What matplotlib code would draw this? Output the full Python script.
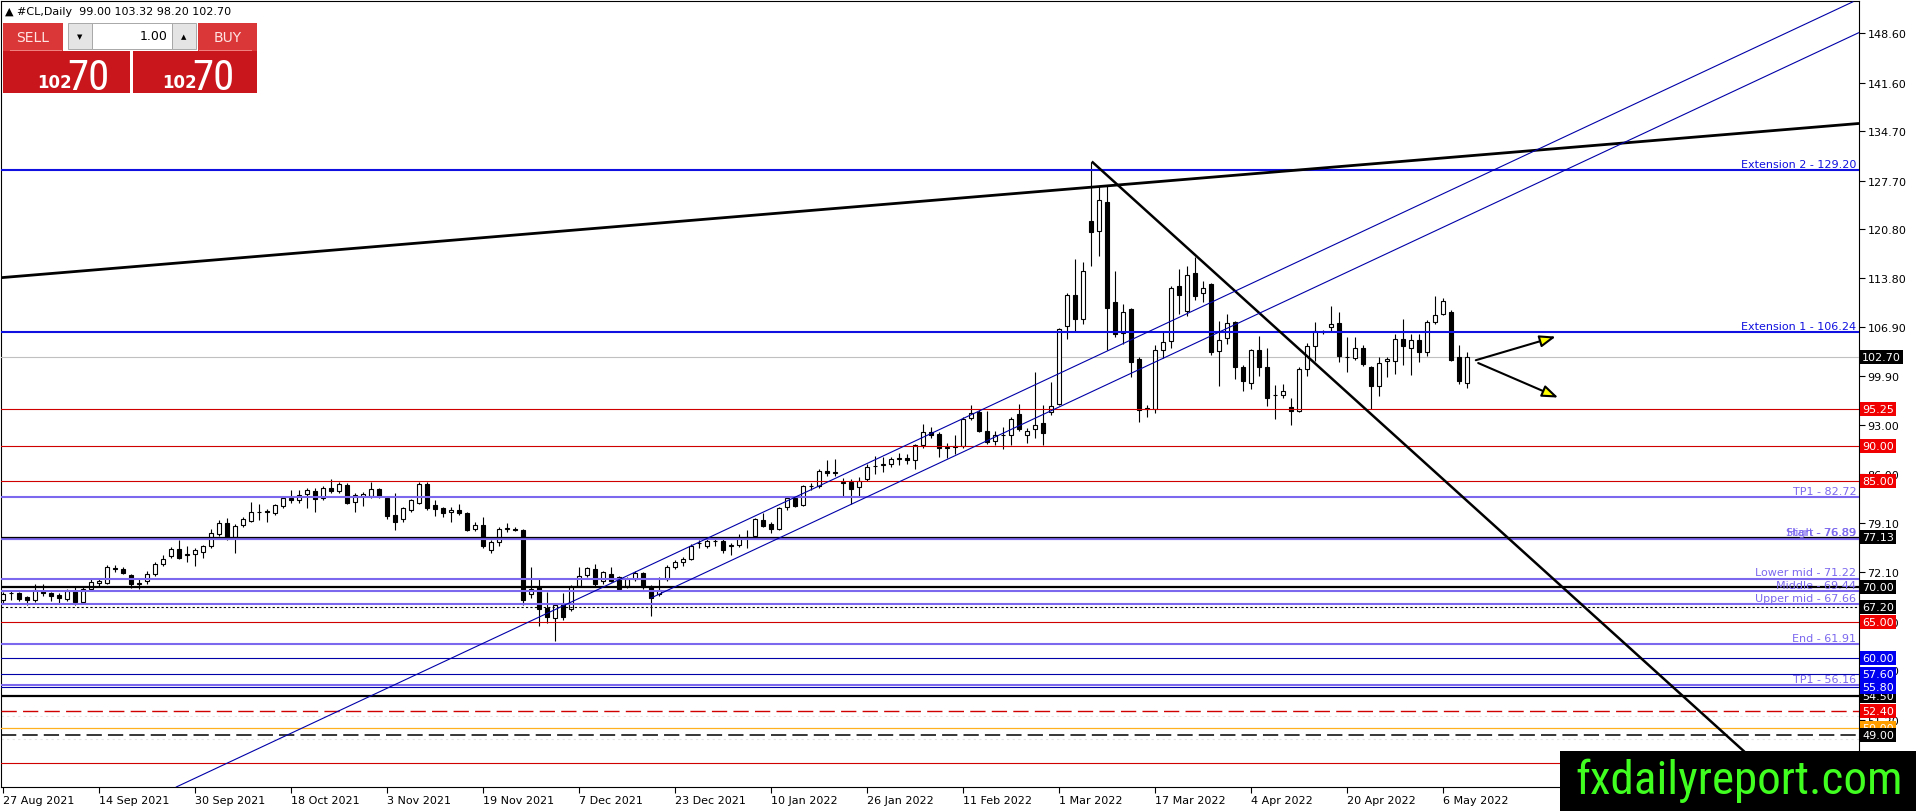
import numpy as np
import matplotlib
matplotlib.use('Agg')
import matplotlib.pyplot as plt
from matplotlib import font_manager
from matplotlib.patches import Rectangle
from matplotlib.transforms import blended_transform_factory

# ---- daily candles, #CL (27 Aug 2021 .. 11 May 2022), one value per bar ----
opens = [
    68.1, 69.1, 69.1, 68.6, 68.2, 69.5, 69.1, 68.9, 68.3, 69.4,
    67.9, 69.7, 70.6, 70.6, 72.7, 72.6, 71.7, 70.5, 70.8, 71.9,
    73.3, 74.4, 75.4, 74.5, 74.7, 75.0, 75.9, 77.5, 79.1, 77.1,
    78.8, 79.4, 80.6, 80.8, 80.5, 81.5, 82.7, 82.3, 83.2, 83.6,
    82.6, 84.0, 83.7, 84.5, 82.1, 83.0, 82.9, 83.9, 82.7, 80.2,
    79.6, 81.0, 82.0, 84.6, 81.6, 81.2, 80.7, 81.0, 80.5, 78.3,
    78.8, 75.2, 76.4, 78.3, 78.2, 78.1, 69.0, 70.0, 67.1, 65.6,
    67.6, 66.9, 70.2, 71.7, 72.6, 70.8, 71.9, 71.4, 70.2, 71.1,
    72.0, 70.0, 69.0, 71.2, 72.9, 73.5, 74.0, 76.2, 75.9, 76.5,
    76.6, 75.9, 76.0, 76.9, 77.3, 79.5, 78.9, 78.3, 81.3, 82.6,
    81.7, 84.3, 84.3, 86.5, 86.2, 84.9, 84.9, 84.2, 85.3, 87.2,
    87.3, 87.5, 88.2, 88.3, 88.0, 90.1, 92.0, 91.7, 89.8, 89.9,
    90.0, 94.0, 94.9, 92.2, 90.8, 91.6, 91.6, 94.6, 91.6, 92.4,
    93.3, 94.9, 96.0, 107.1, 111.4, 108.0, 121.9, 120.6, 124.7, 110.4,
    106.1, 109.5, 102.4, 95.3, 95.3, 103.6, 104.9, 112.8, 109.2, 114.6,
    111.8, 113.0, 103.5, 105.3, 107.6, 101.2, 98.9, 103.6, 101.2, 97.3,
    97.2, 95.5, 95.0, 101.0, 104.2, 106.2, 106.9, 107.5, 102.7, 102.5,
    104.0, 101.3, 98.6, 102.1, 102.1, 105.2, 104.0, 105.0, 103.4, 107.6,
    108.8, 109.0, 102.6, 99.0]
highs = [
    69.3, 69.4, 69.3, 68.8, 70.4, 70.4, 69.3, 69.1, 69.8, 70.0,
    70.0, 71.2, 71.1, 73.1, 73.1, 72.9, 71.9, 71.3, 72.3, 73.5,
    74.6, 75.7, 76.7, 75.8, 75.6, 76.0, 78.3, 79.5, 79.8, 79.0,
    80.0, 82.1, 81.8, 81.1, 81.8, 82.9, 83.8, 83.8, 84.1, 84.0,
    84.3, 85.3, 84.9, 84.8, 83.4, 83.5, 84.9, 84.1, 82.9, 83.4,
    81.4, 82.5, 84.9, 84.9, 82.3, 81.4, 81.3, 81.8, 80.7, 79.3,
    79.9, 76.7, 78.6, 79.1, 78.5, 78.3, 72.9, 71.2, 69.3, 67.6,
    69.2, 70.3, 72.9, 72.9, 73.3, 72.3, 72.9, 71.6, 71.4, 72.3,
    72.2, 70.3, 71.5, 73.2, 73.9, 74.3, 76.1, 76.7, 77.0, 77.0,
    77.0, 76.3, 77.5, 78.1, 79.8, 80.5, 79.3, 81.4, 83.0, 82.9,
    84.5, 84.8, 86.7, 88.1, 88.2, 85.5, 85.3, 85.6, 87.4, 88.6,
    88.4, 88.5, 89.0, 88.9, 90.3, 93.2, 92.7, 92.0, 90.5, 91.6,
    94.2, 95.9, 95.2, 95.0, 92.1, 92.7, 94.1, 96.0, 92.6, 100.5,
    95.8, 99.1, 106.8, 111.8, 116.6, 116.2, 130.4, 126.9, 126.9, 114.8,
    110.2, 109.6, 102.6, 95.8, 104.3, 106.2, 112.8, 115.2, 115.6, 116.8,
    113.4, 113.1, 107.7, 108.8, 107.8, 101.5, 103.8, 105.6, 103.9, 98.7,
    98.8, 96.9, 101.3, 104.7, 107.6, 106.5, 109.9, 109.0, 105.5, 105.5,
    104.3, 101.4, 102.7, 102.7, 105.9, 108.0, 105.9, 105.9, 107.9, 111.3,
    111.1, 109.3, 104.3, 103.32]
lows = [
    67.8, 68.1, 68.0, 67.4, 67.9, 68.8, 68.0, 67.6, 68.0, 67.5,
    67.7, 69.4, 70.2, 70.4, 72.2, 71.8, 69.9, 69.8, 70.5, 71.6,
    73.0, 74.1, 74.0, 73.6, 73.0, 74.2, 75.5, 77.2, 76.7, 74.9,
    78.5, 79.2, 79.5, 79.3, 80.2, 81.2, 82.0, 82.0, 81.2, 80.7,
    82.3, 83.4, 83.4, 81.8, 80.6, 81.5, 82.6, 82.7, 79.6, 78.1,
    79.3, 80.7, 81.8, 80.9, 80.1, 80.0, 79.3, 80.2, 77.9, 78.0,
    75.6, 74.9, 75.8, 77.8, 77.9, 67.4, 68.5, 64.5, 64.9, 62.4,
    65.4, 66.6, 70.0, 71.4, 70.2, 70.5, 70.7, 69.4, 69.9, 70.8,
    69.8, 65.9, 68.8, 70.9, 72.5, 73.0, 73.8, 75.6, 75.5, 75.9,
    74.9, 74.6, 75.7, 75.6, 76.8, 78.6, 77.7, 78.1, 81.0, 81.3,
    81.5, 83.8, 84.0, 85.8, 85.7, 83.0, 81.8, 83.0, 85.0, 86.1,
    86.4, 87.0, 87.3, 87.5, 86.8, 89.8, 91.2, 88.4, 88.3, 88.9,
    89.8, 93.7, 92.0, 90.3, 90.1, 89.6, 90.1, 92.2, 90.5, 91.2,
    90.1, 94.4, 95.8, 105.2, 106.3, 107.3, 115.5, 117.0, 103.6, 105.5,
    104.5, 99.8, 93.5, 94.1, 94.7, 102.5, 103.9, 108.8, 108.5, 110.7,
    110.5, 102.9, 98.5, 104.5, 99.6, 97.9, 98.1, 99.9, 95.7, 93.9,
    96.9, 93.0, 94.8, 99.9, 102.1, 105.9, 106.4, 102.0, 100.5, 102.2,
    101.4, 95.3, 97.1, 99.8, 100.2, 101.5, 100.1, 102.0, 102.8, 107.4,
    108.6, 102.1, 98.8, 98.2]
closes = [
    69.0, 69.2, 68.3, 68.2, 69.6, 69.1, 68.8, 68.4, 69.5, 67.9,
    69.7, 70.7, 70.8, 72.8, 72.6, 72.0, 70.4, 70.6, 71.8, 73.3,
    74.0, 75.4, 74.2, 74.7, 75.2, 75.8, 77.7, 79.1, 77.1, 78.7,
    79.7, 80.6, 80.7, 80.7, 81.6, 82.6, 82.3, 83.1, 83.8, 82.5,
    84.0, 83.7, 84.6, 82.0, 83.1, 83.2, 83.9, 82.9, 80.1, 79.3,
    81.2, 82.3, 84.6, 81.2, 81.1, 80.5, 80.9, 80.5, 78.1, 78.8,
    75.9, 76.4, 78.3, 78.4, 78.1, 68.1, 69.7, 66.9, 65.7, 67.4,
    65.7, 70.0, 71.6, 72.7, 70.4, 72.1, 70.9, 69.7, 71.1, 72.0,
    70.0, 68.5, 69.6, 72.9, 73.6, 74.0, 75.9, 76.3, 76.5, 76.5,
    75.2, 76.0, 76.9, 77.1, 79.6, 78.7, 78.2, 81.2, 82.7, 81.5,
    84.3, 84.3, 86.5, 86.2, 86.4, 84.8, 83.9, 85.1, 87.1, 87.2,
    87.4, 88.2, 88.3, 88.0, 90.1, 92.0, 91.6, 89.7, 89.9, 90.0,
    93.9, 94.7, 92.1, 90.6, 91.6, 91.6, 93.9, 92.4, 92.2, 93.0,
    91.9, 95.7, 106.6, 111.5, 108.0, 114.9, 120.4, 124.9, 109.6, 105.9,
    109.1, 102.0, 95.2, 95.4, 103.6, 104.8, 112.5, 111.4, 114.3, 111.3,
    112.5, 103.4, 105.1, 107.5, 101.2, 99.3, 103.6, 101.3, 96.9, 97.2,
    97.9, 95.0, 100.9, 104.2, 106.4, 106.2, 107.4, 102.8, 102.7, 104.0,
    101.7, 98.6, 101.8, 102.4, 105.2, 104.2, 105.1, 103.4, 107.6, 108.6,
    110.6, 102.3, 99.3, 102.7]

date_labels = ['27 Aug 2021', '14 Sep 2021', '30 Sep 2021', '18 Oct 2021',
               '3 Nov 2021', '19 Nov 2021', '7 Dec 2021', '23 Dec 2021',
               '10 Jan 2022', '26 Jan 2022', '11 Feb 2022', '1 Mar 2022',
               '17 Mar 2022', '4 Apr 2022', '20 Apr 2022', '6 May 2022']
bars_per_label = 12

price_ticks = [148.60, 141.60, 134.70, 127.70, 120.80, 113.80, 106.90, 99.90,
               93.00, 86.00, 79.10, 72.10, 65.10, 58.20, 51.20, 44.30]

# levels drawn on the chart
ext_prices = [129.20, 106.24]
ext_names = ['Extension 2', 'Extension 1']
fib_prices = [82.72, 76.89, 76.89, 71.22, 69.44, 67.66, 61.91, 56.16]
fib_names = ['TP1', 'Start', 'High', 'Lower mid', 'Middle', 'Upper mid', 'End', 'TP1']
red_levels = [95.25, 90.00, 85.00, 65.00, 45.00]
black_levels = [77.13]
black_thick_levels = [70.00, 54.50]
blue_levels = [60.00, 57.60, 55.80]
dotted_level = 67.20
red_dashed_level = 52.40
orange_level = 50.00
black_dashed_level = 49.00
faint_levels = [51.70, 48.40]
bid = 102.70

# right-hand price boxes, in drawing order
box_prices = [102.70, 95.25, 90.00, 85.00, 77.13, 70.00, 67.20, 65.00, 60.00,
              57.60, 54.50, 55.80, 52.40, 50.00, 49.00, 45.00]
box_kinds = ['k', 'r', 'r', 'r', 'k', 'k', 'k', 'r', 'b', 'b', 'k', 'b', 'r', 'o', 'k', 'r']

# trendline anchors (bar index, price)
black_top_line = [(-0.4, 113.9), (232.0, 135.8)]
black_down_line = [(136.1, 130.4), (222.0, 42.2)]
channel_upper = [(21.6, 41.6), (231.3, 153.1)]
channel_lower = [(80.9, 68.4), (232.0, 148.7)]
arrow_up = [(184.1, 102.2), (194.1, 105.55)]
arrow_down = [(184.4, 101.8), (194.4, 96.9)]

header = '#CL,Daily  99.00 103.32 98.20 102.70'

# ---------------------------------------------------------------------------
W, H = 1916, 812
installed = {f.name for f in font_manager.fontManager.ttflist}
if 'Liberation Sans Narrow' in installed:
    NARROW = dict(family='Liberation Sans Narrow')
elif 'Roboto Condensed' in installed:
    NARROW = dict(family='Roboto Condensed')
else:
    NARROW = dict(family='DejaVu Sans', fontstretch='condensed')

plt.rcParams['font.family'] = 'DejaVu Sans'
plt.rcParams['font.size'] = 8

BLUE = '#1010E0'
DBLUE = '#0000A8'
PURPLE = '#7B68EE'
RED = '#D00000'
box_colors = {'k': 'black', 'r': '#F00000', 'b': '#0000F0', 'o': '#FFA000'}


def fx(px):
    return px / W


def fy(py):
    return 1 - py / H


fig = plt.figure(figsize=(W / 100, H / 100), dpi=100)
ax = fig.add_axes([fx(1), fy(788), fx(1859) - fx(1), fy(2) - fy(788)])
ax.set_xlim(-0.25, 232)
ax.set_ylim(41.63, 153.18)

# candles
o = np.array(opens)
c = np.array(closes)
idx = np.arange(len(c))
ax.vlines(idx, lows, highs, color='black', lw=0.8, zorder=4)
up = c >= o
ax.bar(idx[up], (c - o)[up], bottom=o[up], width=0.58, color='white',
       edgecolor='black', lw=0.8, zorder=5)
ax.bar(idx[~up], (o - c)[~up], bottom=c[~up], width=0.58, color='black',
       edgecolor='black', lw=0.8, zorder=5)

# horizontal levels
ax.axhline(bid, color='#C0C0C0', lw=0.8, zorder=3)
for p in ext_prices:
    ax.axhline(p, color=BLUE, lw=1.5, zorder=6)
for p in fib_prices:
    ax.axhline(p, color=PURPLE, lw=1.5, zorder=6)
for p in red_levels:
    ax.axhline(p, color=RED, lw=0.8, zorder=6)
for p in black_levels:
    ax.axhline(p, color='black', lw=0.9, zorder=6)
for p in black_thick_levels:
    ax.axhline(p, color='black', lw=1.6, zorder=6)
for p in blue_levels:
    ax.axhline(p, color=DBLUE, lw=0.8, zorder=6)
ax.axhline(dotted_level, color='black', lw=0.8, ls=(0, (2, 2)), zorder=6)
ax.axhline(red_dashed_level, color=RED, lw=1.0, ls=(0, (11, 4.5)), zorder=6)
ax.axhline(orange_level, color='#FFB020', lw=0.9, zorder=6)
ax.axhline(black_dashed_level, color='black', lw=1.1, ls=(0, (10, 4)), zorder=6)
for p in faint_levels:
    ax.axhline(p, color='#E4E4E4', lw=0.8, ls=(0, (2, 3)), zorder=2)

# level captions, right aligned just left of the price scale
bt = blended_transform_factory(ax.transAxes, ax.transData)
for p, n in zip(ext_prices, ext_names):
    ax.text(0.9985, p + 0.15, f'{n} - {p:.2f}', transform=bt, ha='right',
            va='bottom', color=BLUE, fontsize=8, zorder=7)
for p, n in zip(fib_prices, fib_names):
    ax.text(0.9985, p + 0.15, f'{n} - {p:.2f}', transform=bt, ha='right',
            va='bottom', color=PURPLE, fontsize=8, zorder=7)

# trendlines
for line, col, lw in [(black_top_line, 'black', 2.0), (black_down_line, 'black', 1.8),
                      (channel_upper, DBLUE, 0.8), (channel_lower, DBLUE, 0.8)]:
    (x0, y0), (x1, y1) = line
    ax.plot([x0, x1], [y0, y1], color=col, lw=lw, zorder=6, solid_capstyle='butt')

for (x0, y0), (x1, y1) in [arrow_up, arrow_down]:
    ax.annotate('', xy=(x1, y1), xytext=(x0, y0),
                arrowprops=dict(arrowstyle='-|>,head_length=1.2,head_width=0.45',
                                fc='#FFFF00', ec='black', lw=1.5,
                                shrinkA=0, shrinkB=0),
                zorder=7)

# price scale
ax.yaxis.tick_right()
ax.set_yticks(price_ticks)
ax.set_yticklabels([f'{t:.2f}' for t in price_ticks])
ax.tick_params(axis='y', length=4, width=0.8, pad=2, labelsize=8)
ticks_x = [i * bars_per_label for i in range(len(date_labels))]
ax.set_xticks(ticks_x)
ax.set_xticklabels(date_labels, ha='left')
ax.tick_params(axis='x', length=4, width=0.8, pad=2, labelsize=8)
for s in ax.spines.values():
    s.set_linewidth(0.8)

for p, k in zip(box_prices, box_kinds):
    ax.text(1.0 + 3 / 1858, p, f'{p:.2f}', transform=bt, ha='left', va='center',
            color='white', fontsize=8, clip_on=False, zorder=8,
            bbox=dict(boxstyle='square,pad=0.18', fc=box_colors[k], ec='none'))

# header + trade panel
fig.text(fx(5), fy(12), '\u25b2 ' + header, va='center', ha='left', fontsize=8)


def rect(x0, y0, x1, y1, fc, ec='none', lw=0.0):
    fig.add_artist(Rectangle((fx(x0), fy(y1)), fx(x1) - fx(x0), fy(y0) - fy(y1),
                             transform=fig.transFigure, fc=fc, ec=ec, lw=lw))


rect(3, 24, 63, 52, '#DA3838')
rect(198, 24, 257, 52, '#DA3838')
rect(3, 52, 130, 94, '#C8161C')
rect(133, 52, 257, 94, '#C8161C')
rect(10, 51, 62, 52, '#F08080')
rect(199, 51, 252, 52, '#F08080')
rect(68, 24, 92, 50, '#E4E4E4', ec='#A8A8A8', lw=0.7)
rect(92, 24, 172, 50, 'white', ec='#A8A8A8', lw=0.7)
rect(172, 24, 196, 50, '#E4E4E4', ec='#A8A8A8', lw=0.7)
fig.text(fx(33), fy(38), 'SELL', ha='center', va='center', fontsize=10, color='#FFE4E4')
fig.text(fx(228), fy(38), 'BUY', ha='center', va='center', fontsize=10, color='#FFE4E4')
fig.text(fx(168), fy(37), '1.00', ha='right', va='center', fontsize=9, color='black')
fig.text(fx(80), fy(37), '\u25bc', ha='center', va='center', fontsize=5)
fig.text(fx(184), fy(37), '\u25b2', ha='center', va='center', fontsize=5)
for x_small, x_big in [(37, 67), (162, 192)]:
    fig.text(fx(x_small), fy(88), '102', ha='left', va='baseline', fontsize=12,
             fontweight='bold', color='white')
    fig.text(fx(x_big), fy(90), '70', ha='left', va='baseline', fontsize=31,
             color='white', **NARROW)

# watermark
rect(1560, 752, 1916, 812, 'black')
wm = fig.text(fx(1739), fy(781), 'fxdailyreport.com', ha='center', va='center',
              fontsize=36, color='#40FF20', **NARROW)
fig.canvas.draw()
wm.set_fontsize(36 * 328 / wm.get_window_extent().width)

fig.savefig('out.png', dpi=100)
